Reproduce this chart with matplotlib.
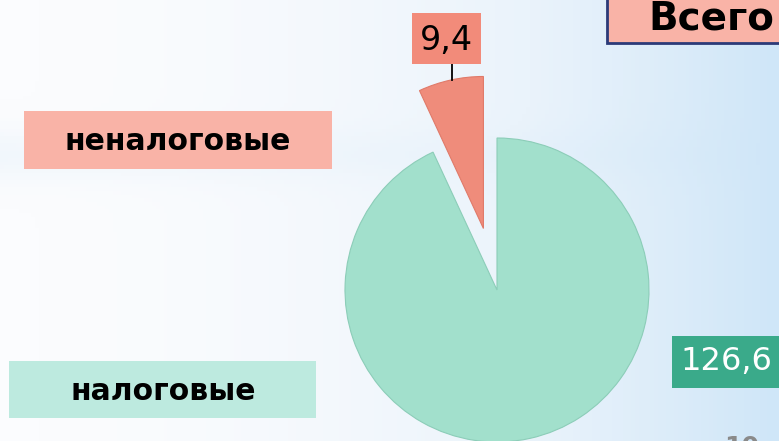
import numpy as np
import matplotlib
matplotlib.use('Agg')
import matplotlib.pyplot as plt
from matplotlib.colors import LinearSegmentedColormap
from matplotlib.patches import Rectangle

plt.rcParams['font.family'] = ['DejaVu Sans']

# данные
categories = ['налоговые', 'неналоговые']
values = [126.6, 9.4]
value_labels = [f'{v:.1f}'.replace('.', ',') for v in values]

C_TAX = '#a2e0cc'
C_NONTAX = '#ef8c7b'
C_TAX_BOX = '#bdeadf'
C_NONTAX_BOX = '#f9b3a7'
C_TAX_VAL = '#3aaa8a'
C_NONTAX_VAL = '#f28b7a'

W, H = 779, 441
fig = plt.figure(figsize=(W / 100, H / 100), dpi=100)

# фон: светлый градиент
bg = fig.add_axes([0, 0, 1, 1])
xx, yy = np.meshgrid(np.linspace(0, 1, 200), np.linspace(0, 1, 120))
t = np.clip(0.1 + 0.9 * xx ** 1.8 + 0.25 * np.exp(-((yy - 0.35) / 0.06) ** 2) * (1 - xx), 0, 1)
cmap = LinearSegmentedColormap.from_list('bg', ['#fbfcfe', '#eaf3fb', '#cfe6f8'])
bg.imshow(t, cmap=cmap, aspect='auto', extent=[0, W, 0, H], origin='upper')
bg.set_xlim(0, W)
bg.set_ylim(0, H)
bg.axis('off')

ax = fig.add_axes([0, 0, 1, 1])
ax.patch.set_alpha(0)
cx, cy, r = 497, H - 290, 152
wedges, _ = ax.pie(values, colors=[C_TAX, C_NONTAX], startangle=90,
                   counterclock=False, explode=[0, 63], radius=r,
                   center=(cx, cy), frame=True,
                   wedgeprops=dict(edgecolor='#8ccdb8', linewidth=0.8))
wedges[1].set_edgecolor('#e07a69')
ax.set_xlim(0, W)
ax.set_ylim(0, H)
ax.set_aspect('equal')
ax.axis('off')


def box(x0, y0, x1, y1, fc, ec='none', lw=0):
    # прямоугольник в пикселях (сверху вниз)
    ax.add_patch(Rectangle((x0, H - y1), x1 - x0, y1 - y0, fc=fc, ec=ec,
                           lw=lw, zorder=3))


# подписи категорий
box(24, 111, 332, 169, C_NONTAX_BOX)
ax.text(178, H - 141, categories[1], ha='center', va='center', fontsize=21.5,
        fontweight='bold', color='black', zorder=4)
box(9, 361, 316, 418, C_TAX_BOX)
ax.text(163, H - 391, categories[0], ha='center', va='center', fontsize=21.5,
        fontweight='bold', color='black', zorder=4)

# значения
ax.plot([452, 452], [H - 64, H - 80], color='black', lw=1.3, zorder=2)
box(412, 13, 481, 64, C_NONTAX_VAL)
ax.text(446.5, H - 40, value_labels[1], ha='center', va='center', fontsize=24,
        color='black', zorder=4)
box(672, 336, 790, 388, C_TAX_VAL)
ax.text(726, H - 362, value_labels[0], ha='center', va='center', fontsize=23,
        color='white', zorder=4)

# заголовок
box(607, -10, 800, 43, C_NONTAX_BOX, ec='#2b3a78', lw=2)
ax.text(648, H - 19, 'Всего', ha='left', va='center', fontsize=28,
        fontweight='bold', color='black', zorder=4)

ax.text(742, H - 435, '10', ha='center', va='top', fontsize=18,
        fontweight='bold', color='#8a8a8a', zorder=4)

fig.savefig('out.png', dpi=100)
